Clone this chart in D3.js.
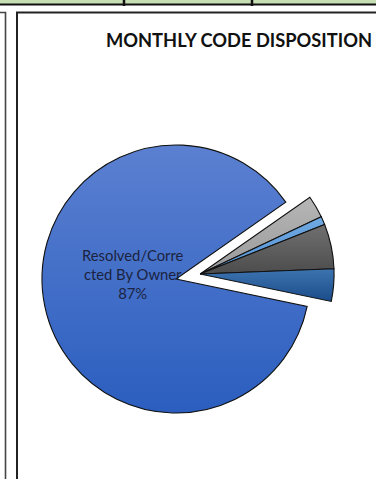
<!DOCTYPE html>
<html>
<head>
<meta charset="utf-8">
<script src="https://cdn.jsdelivr.net/npm/d3@7"></script>
<style>
  html, body { margin: 0; padding: 0; background: #fff; }
  svg { display: block; }
</style>
</head>
<body>
<svg id="chart" width="376" height="479"></svg>
<script>
// Monthly code disposition shares (percent of cases)
const categories = [
  "Resolved/Corrected By Owner",
  "Pending Owner Response",
  "Referred to Enforcement",
  "Under Review",
  "Closed - No Violation"
];
const shares = [87, 2.7, 1.0, 5.4, 3.9];
const labelLines = ["Resolved/Corre", "cted By Owner", "87%"];
const titleText = "MONTHLY CODE DISPOSITION";

// slice fills: [top, bottom] of each vertical gradient
const fills = [
  ["#5b80d1", "#2b5ebf"],
  ["#b6b6b6", "#9a9a9a"],
  ["#70a9e2", "#5393d4"],
  ["#707070", "#4c4c4c"],
  ["#3c74b0", "#1b4c8a"]
];

const svg = d3.select("#chart");
const W = 376, H = 479;

// ---- sheet furniture around the chart ----
svg.append("rect").attr("x", 0).attr("y", 0).attr("width", W).attr("height", 4)
  .attr("fill", "#c6dfb4");
svg.append("line").attr("x1", 0).attr("x2", W).attr("y1", 4.5).attr("y2", 4.5)
  .attr("stroke", "#111").attr("stroke-width", 2);
[124, 252].forEach(x => {
  svg.append("line").attr("x1", x).attr("x2", x).attr("y1", 0).attr("y2", 6)
    .attr("stroke", "#111").attr("stroke-width", 2.5);
});
// neighbouring box on the left
svg.append("path").attr("d", `M0,12.5 H5.5 V${H}`)
  .attr("fill", "none").attr("stroke", "#444").attr("stroke-width", 1.6);
// chart frame
svg.append("path").attr("d", `M${W + 2},12.5 H17 V${H + 2}`)
  .attr("fill", "none").attr("stroke", "#222").attr("stroke-width", 2);

// ---- title ----
svg.append("text")
  .attr("x", 239).attr("y", 47)
  .attr("text-anchor", "middle")
  .attr("font-family", "Lato, 'Open Sans', sans-serif")
  .attr("font-weight", 700)
  .attr("font-size", 18.3)
  .attr("fill", "#111")
  .text(titleText);

// ---- pie ----
const cx = 176, cy = 279, r = 134, explode = 24.6;
const a0 = 101.8 * Math.PI / 180;

const pie = d3.pie().sort(null).startAngle(a0).endAngle(a0 + 2 * Math.PI);
const arcs = pie(shares);
const arc = d3.arc().innerRadius(0).outerRadius(r);

// the minor slices are pulled out together along their shared bisector
const minorStart = arcs[1].startAngle, minorEnd = arcs[arcs.length - 1].endAngle;
const minorMid = (minorStart + minorEnd) / 2;
const ox = Math.sin(minorMid) * explode, oy = -Math.cos(minorMid) * explode;

const defs = svg.append("defs");
fills.forEach((f, i) => {
  const g = defs.append("linearGradient").attr("id", "g" + i)
    .attr("x1", 0).attr("y1", 0).attr("x2", 0).attr("y2", 1);
  g.append("stop").attr("offset", "0%").attr("stop-color", f[0]);
  g.append("stop").attr("offset", "100%").attr("stop-color", f[1]);
});

const pieG = svg.append("g");
pieG.selectAll("path.slice")
  .data(arcs)
  .join("path")
  .attr("class", "slice")
  .attr("transform", (d, i) => i === 0
    ? `translate(${cx},${cy})`
    : `translate(${cx + ox},${cy + oy})`)
  .attr("d", arc)
  .attr("fill", (d, i) => `url(#g${i})`)
  .attr("stroke", "#111")
  .attr("stroke-width", 1.1)
  .attr("stroke-linejoin", "miter");

// ---- data label of the major slice ----
const labelArc = d3.arc().innerRadius(r * 0.33).outerRadius(r * 0.33);
const [lx, ly] = labelArc.centroid(arcs[0]);
const lineH = 19;
const label = svg.append("text")
  .attr("text-anchor", "middle")
  .attr("font-family", "Lato, 'Open Sans', sans-serif")
  .attr("font-size", 14.8)
  .attr("fill", "#1b2340");
labelLines.forEach((t, i) => {
  label.append("tspan")
    .attr("x", cx + lx)
    .attr("y", cy + ly - 27 + i * lineH)
    .text(t);
});
</script>
</body>
</html>
